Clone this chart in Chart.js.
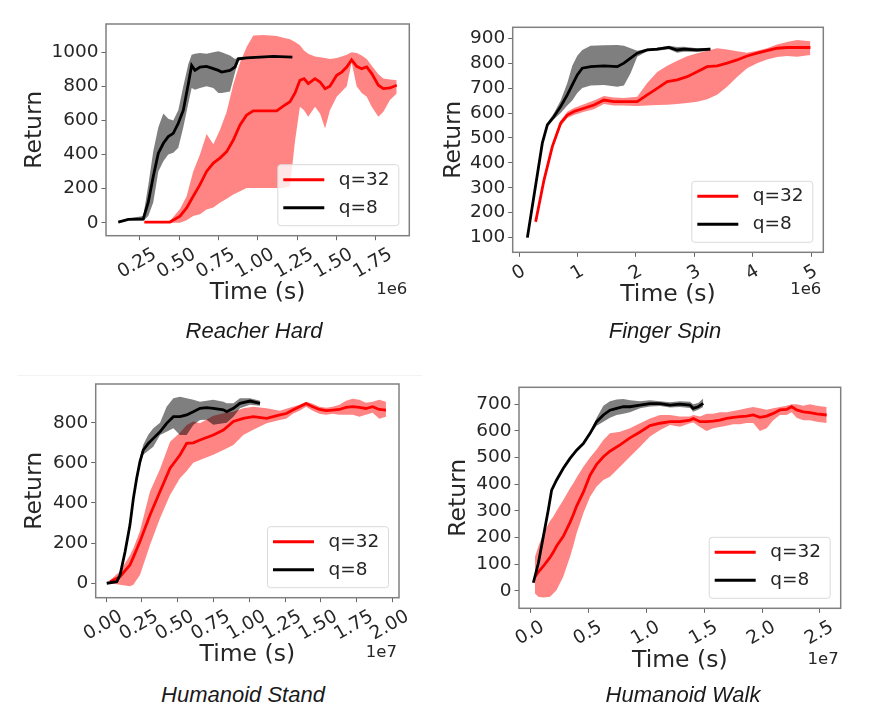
<!DOCTYPE html>
<html>
<head>
<meta charset="utf-8">
<script src="https://cdn.jsdelivr.net/npm/chart.js@4.4.1/dist/chart.umd.min.js"></script>
<style>
  body { margin: 0; background: #fff; width: 881px; height: 728px; position: relative; overflow: hidden; }
  .panel { position: absolute; }
  .titulo { position: absolute; font-family: "Liberation Sans", Arial, sans-serif; font-style: italic; font-size: 22px; line-height: 1; color: #1a1a1a; transform: translate(-50%, -50%); white-space: nowrap; }
  .separador { position: absolute; left: 17px; top: 375px; width: 405px; height: 1px; background: #f3f3f3; }
</style>
</head>
<body>
<div class="separador"></div>
<div class="panel" style="left:0px;top:0px"><canvas id="g1" width="440" height="320"></canvas></div>
<div class="panel" style="left:430px;top:0px"><canvas id="g2" width="451" height="320"></canvas></div>
<div class="panel" style="left:0px;top:360px"><canvas id="g3" width="440" height="320"></canvas></div>
<div class="panel" style="left:430px;top:360px"><canvas id="g4" width="451" height="320"></canvas></div>
<div class="titulo" id="t1" style="left:254px;top:331px"></div>
<div class="titulo" id="t2" style="left:665px;top:331px"></div>
<div class="titulo" id="t3" style="left:243px;top:695px"></div>
<div class="titulo" id="t4" style="left:683px;top:695px"></div>
<script>
const etiquetas = ['q=32', 'q=8'];
const titulos = ['Reacher Hard', 'Finger Spin', 'Humanoid Stand', 'Humanoid Walk'];

// Reacher Hard (tiempo en unidades de 1e6 s)
const reacherX32 = [0.278,0.441,0.505,0.547,0.589,0.632,0.674,0.717,0.759,0.802,0.844,0.887,0.929,0.971,1.035,1.120,1.162,1.205,1.237,1.268,1.294,1.321,1.364,1.396,1.428,1.459,1.502,1.534,1.566,1.597,1.629,1.661,1.693,1.725,1.767,1.799,1.841,1.884];
const reacherY32 = [4,4,39,87,155,223,301,350,379,417,485,573,631,656,656,656,684,709,761,835,845,816,845,825,786,800,864,883,913,955,917,903,913,874,806,786,790,806];
const reacherHi32 = [4,10,80,155,300,400,520,460,544,650,810,940,1030,1097,1100,1095,1085,1075,1060,1040,1010,990,975,970,965,960,965,975,985,1000,995,980,960,920,870,845,840,835];
const reacherLo32 = [0,0,0,15,39,50,78,90,117,140,165,185,204,204,204,204,204,214,480,680,660,621,680,641,553,660,738,770,800,940,800,760,738,680,621,650,720,757];
const reacherX8 = [0.112,0.176,0.271,0.303,0.335,0.367,0.399,0.430,0.462,0.494,0.526,0.558,0.579,0.600,0.632,0.674,0.717,0.749,0.770,0.823,0.855,0.876,0.929,1.014,1.099,1.220];
const reacherY8 = [4,20,22,120,272,408,466,505,524,583,660,815,922,893,913,917,903,893,883,893,913,961,967,971,975,971];
const reacherHi8 = [4,25,40,220,420,560,640,610,600,660,800,930,985,990,995,990,1000,1005,1000,980,960,970,972,975,978,974];
const reacherLo8 = [4,15,10,40,120,300,360,400,410,440,560,700,790,780,790,800,790,760,760,770,880,950,962,967,970,968];
const reacherXTicks = [0.25,0.5,0.75,1.0,1.25,1.5,1.75];
const reacherYTicks = [0,200,400,600,800,1000];

// Finger Spin (1e6 s)
const fingerX32 = [0.285,0.428,0.570,0.713,0.827,0.941,1.112,1.283,1.454,1.625,1.796,2.024,2.195,2.366,2.537,2.708,2.879,3.050,3.221,3.392,3.563,3.734,3.905,4.076,4.247,4.418,4.589,4.761,4.989];
const fingerY32 = [164,331,465,559,592,606,619,632,652,646,646,646,673,699,726,733,746,766,786,789,800,813,829,840,850,860,863,863,863];
const fingerHi32 = [175,340,475,570,605,620,635,650,668,662,660,665,720,765,790,810,828,840,850,860,855,848,842,850,860,875,885,893,888];
const fingerLo32 = [150,320,455,548,580,592,605,615,636,630,630,628,630,632,633,636,640,645,655,673,705,745,780,800,815,825,829,826,833];
const fingerX8 = [0.143,0.399,0.485,0.599,0.713,0.827,0.912,0.998,1.083,1.226,1.454,1.682,1.796,1.910,2.024,2.195,2.366,2.566,2.708,2.822,3.050,3.278];
const fingerY8 = [100,479,552,586,626,673,713,753,780,786,789,786,800,820,840,853,856,863,853,856,853,856];
const fingerHi8 = [100,485,560,600,650,720,790,830,853,870,872,873,870,860,850,858,862,870,865,866,860,862];
const fingerLo8 = [100,473,545,575,600,630,650,680,700,710,712,705,710,760,826,848,850,856,842,846,846,850];
const fingerXTicks = [0,1,2,3,4,5];
const fingerYTicks = [100,200,300,400,500,600,700,800,900];

// Humanoid Stand (1e7 s)
const standX32 = [0.028,0.098,0.167,0.191,0.237,0.307,0.377,0.447,0.516,0.563,0.609,0.656,0.749,0.819,0.889,0.958,1.028,1.121,1.214,1.258,1.304,1.350,1.397,1.443,1.490,1.536,1.582,1.629,1.675,1.722,1.768,1.814,1.861,1.907,1.954];
const standY32 = [8,33,91,130,208,340,457,573,639,697,700,714,739,764,806,822,830,822,839,846,863,880,896,880,866,860,863,866,876,880,876,871,880,866,863];
const standHi32 = [15,60,140,174,260,457,570,705,750,789,806,797,835,847,855,872,880,872,860,870,880,890,905,895,880,875,880,890,910,920,915,900,905,915,905];
const standLo32 = [0,-8,-15,-8,41,191,324,440,523,560,600,614,640,664,689,739,765,797,813,820,845,860,880,860,845,840,845,840,840,840,830,840,850,820,830];
const standX8 = [0.005,0.075,0.098,0.133,0.167,0.191,0.214,0.237,0.260,0.295,0.330,0.377,0.423,0.470,0.516,0.563,0.609,0.656,0.702,0.749,0.819,0.842,0.889,0.935,1.005,1.075];
const standY8 = [0,8,41,157,290,423,523,606,664,697,722,755,797,830,830,839,855,872,875,872,864,855,872,897,908,897];
const standHi8 = [2,12,50,170,305,440,540,625,690,740,772,800,880,922,930,922,914,905,910,914,905,897,897,922,922,910];
const standLo8 = [-2,4,32,144,275,406,505,588,640,660,680,739,755,772,739,739,789,813,815,790,797,800,830,872,889,885];
const standXTicks = [0,0.25,0.5,0.75,1.0,1.25,1.5,1.75,2.0];
const standYTicks = [0,200,400,600,800];

// Humanoid Walk (1e7 s)
const walkX32 = [0.037,0.066,0.109,0.167,0.196,0.224,0.282,0.340,0.369,0.397,0.455,0.513,0.570,0.628,0.685,0.772,0.858,0.945,1.031,1.118,1.204,1.290,1.377,1.406,1.463,1.520,1.577,1.635,1.693,1.751,1.808,1.866,1.923,1.981,2.039,2.096,2.154,2.212,2.255,2.298,2.356,2.413,2.471,2.558];
const walkY32 = [53,70,92,125,145,168,204,257,286,318,370,434,475,503,524,548,574,596,620,629,635,635,641,647,635,635,637,641,647,651,654,656,660,651,656,666,679,681,691,679,672,669,664,660];
const walkHi32 = [128,166,215,262,279,300,341,385,404,425,466,500,530,566,591,597,610,629,647,660,660,654,654,660,654,665,665,670,670,675,680,685,690,685,680,685,690,695,700,700,695,700,695,690];
const walkLo32 = [-10,-23,-25,-23,-10,3,53,128,170,216,291,353,391,416,428,466,503,541,579,604,622,616,629,632,615,600,610,615,620,625,625,630,630,600,610,640,660,660,670,650,640,640,635,630];
const walkX8 = [0.023,0.066,0.109,0.152,0.181,0.224,0.282,0.340,0.397,0.455,0.513,0.570,0.628,0.685,0.743,0.801,0.858,0.945,1.031,1.118,1.204,1.290,1.377,1.404,1.448,1.491];
const walkY8 = [30,103,203,303,378,416,460,497,528,553,591,635,660,678,685,691,691,697,703,703,697,701,697,685,691,704];
const walkHi8 = [32,106,206,306,381,419,463,500,531,556,596,650,695,712,718,720,715,712,715,712,708,712,710,700,705,722];
const walkLo8 = [28,100,200,300,375,413,457,494,525,550,586,620,635,650,660,665,670,685,692,694,688,690,686,672,680,690];
const walkXTicks = [0,0.5,1.0,1.5,2.0,2.5];
const walkYTicks = [0,100,200,300,400,500,600,700];

const ROJO = '#ff0000';
const NEGRO = '#000000';
const BANDA_ROJA = 'rgba(255,0,0,0.48)';
const BANDA_GRIS = 'rgba(0,0,0,0.5)';
const TEXTO = '#262626';
const FUENTE = 'DejaVu Sans';

// posiciones de cada panel (caja del canvas y area del grafico, en px de la pagina)
const paneles = [
  { id: 'g1', caja: { l: 0, t: 0, w: 440, h: 320 }, area: { l: 106, t: 24, r: 409.3, b: 235.7 },
    xMin: 0.034, xMax: 1.964, yMin: -76, yMax: 1165, dec: 2, desp: 15, padY: 20.9, padX: 12.9, exp: '1e6', expY: 54.3,
    xTicks: reacherXTicks, yTicks: reacherYTicks,
    s32: [reacherX32, reacherY32, reacherLo32, reacherHi32], s8: [reacherX8, reacherY8, reacherLo8, reacherHi8] },
  { id: 'g2', caja: { l: 430, t: 0, w: 451, h: 320 }, area: { l: 512.7, t: 27.3, r: 823.3, b: 252.3 },
    xMin: -0.108, xMax: 5.21, yMin: 41, yMax: 944, dec: 0, desp: 5, padY: 9.6, padX: 10.9, exp: '1e6', expY: 37.7,
    xTicks: fingerXTicks, yTicks: fingerYTicks,
    s32: [fingerX32, fingerY32, fingerLo32, fingerHi32], s8: [fingerX8, fingerY8, fingerLo8, fingerHi8] },
  { id: 'g3', caja: { l: 0, t: 360, w: 440, h: 320 }, area: { l: 95.7, t: 384, r: 399, b: 597.7 },
    xMin: -0.072, xMax: 2.045, yMin: -72, yMax: 993, dec: 2, desp: 15, padY: 21.2, padX: 10.9, exp: '1e7', expY: 54.8,
    xTicks: standXTicks, yTicks: standYTicks,
    s32: [standX32, standY32, standLo32, standHi32], s8: [standX8, standY8, standLo8, standHi8] },
  { id: 'g4', caja: { l: 430, t: 360, w: 451, h: 320 }, area: { l: 519, t: 387.3, r: 840.7, b: 608.3 },
    xMin: -0.101, xMax: 2.679, yMin: -66, yMax: 764, dec: 1, desp: 12, padY: 14.6, padX: 4.9, exp: '1e7', expY: 51.7,
    xTicks: walkXTicks, yTicks: walkYTicks,
    s32: [walkX32, walkY32, walkLo32, walkHi32], s8: [walkX8, walkY8, walkLo8, walkHi8] }
];

function puntos(xs, ys) {
  return xs.map((x, i) => ({ x: x, y: ys[i] }));
}

// linea media + banda (max con relleno hasta min)
function serie(s, color, banda, etiqueta, orden) {
  return [
    { label: etiqueta, data: puntos(s[0], s[1]), borderColor: color, borderWidth: 2.8, pointRadius: 0, fill: false, order: orden },
    { label: '', data: puntos(s[0], s[3]), borderColor: 'rgba(0,0,0,0)', borderWidth: 0, pointRadius: 0, backgroundColor: banda, fill: '+1', order: orden + 1 },
    { label: '', data: puntos(s[0], s[2]), borderColor: 'rgba(0,0,0,0)', borderWidth: 0, pointRadius: 0, fill: false, order: orden + 1 }
  ];
}

// marco, texto del exponente y leyenda dibujados encima
const extras = {
  id: 'extras',
  afterDraw(chart) {
    const p = chart.config.options.panel;
    const a = chart.chartArea;
    const ctx = chart.ctx;
    ctx.save();
    ctx.strokeStyle = '#808080';
    ctx.lineWidth = 1.5;
    ctx.strokeRect(a.left, a.top, a.right - a.left, a.bottom - a.top);

    ctx.fillStyle = TEXTO;
    ctx.font = '16.5px "' + FUENTE + '"';
    ctx.textAlign = 'right';
    ctx.textBaseline = 'middle';
    ctx.fillText(p.exp, a.right - 2, a.bottom + p.expY);

    const w = 121, h = 61;
    const bx = a.right - 10.5 - w, by = a.bottom - 10 - h;
    ctx.beginPath();
    ctx.roundRect(bx, by, w, h, 3);
    ctx.fillStyle = 'rgba(255,255,255,0.8)';
    ctx.fill();
    ctx.strokeStyle = '#d9d9d9';
    ctx.lineWidth = 1;
    ctx.stroke();
    const colores = [ROJO, NEGRO];
    ctx.font = '18.5px "' + FUENTE + '"';
    ctx.textAlign = 'left';
    etiquetas.forEach((et, i) => {
      const y = by + 15 + i * 28;
      ctx.strokeStyle = colores[i];
      ctx.lineWidth = 3;
      ctx.beginPath();
      ctx.moveTo(bx + 5.5, y);
      ctx.lineTo(bx + 46.5, y);
      ctx.stroke();
      ctx.fillStyle = TEXTO;
      ctx.fillText(et, bx + 61, y);
    });
    ctx.restore();
  }
};

function crearPanel(p) {
  const c = p.caja, a = p.area;
  const rejilla = { display: true, drawOnChartArea: false, drawTicks: true, tickLength: 4.5, color: '#666', tickWidth: 1 };
  new Chart(document.getElementById(p.id), {
    type: 'line',
    data: {
      datasets: [
        ...serie(p.s8, NEGRO, BANDA_GRIS, etiquetas[1], 0),
        ...serie(p.s32, ROJO, BANDA_ROJA, etiquetas[0], 2)
      ]
    },
    options: {
      panel: p,
      responsive: false,
      animation: false,
      events: [],
      layout: { padding: { left: 0, top: a.t - c.t, right: c.l + c.w - a.r, bottom: 0 } },
      plugins: { legend: { display: false }, tooltip: { enabled: false } },
      scales: {
        x: {
          type: 'linear', min: p.xMin, max: p.xMax,
          afterFit: (s) => { s.height = c.t + c.h - a.b; },
          afterBuildTicks: (s) => { s.ticks = p.xTicks.map(v => ({ value: v })); },
          grid: rejilla,
          border: { display: false },
          ticks: {
            color: TEXTO, font: { family: FUENTE, size: 18.5 }, padding: 3.5,
            minRotation: 30, maxRotation: 30, labelOffset: p.desp, autoSkip: false,
            callback: (v) => Number(v).toFixed(p.dec)
          },
          title: { display: true, text: 'Time (s)', color: TEXTO, font: { family: FUENTE, size: 23.5 }, padding: { top: 0, bottom: p.padX } }
        },
        y: {
          type: 'linear', min: p.yMin, max: p.yMax,
          afterFit: (s) => { s.width = a.l - c.l; },
          afterBuildTicks: (s) => { s.ticks = p.yTicks.map(v => ({ value: v })); },
          grid: rejilla,
          border: { display: false },
          ticks: { color: TEXTO, font: { family: FUENTE, size: 18.5 }, padding: 3, autoSkip: false, callback: (v) => String(v) },
          title: { display: true, text: 'Return', color: TEXTO, font: { family: FUENTE, size: 23.5 }, padding: { top: p.padY, bottom: 0 } }
        }
      }
    },
    plugins: [extras]
  });
}

document.addEventListener('DOMContentLoaded', () => {
  titulos.forEach((t, i) => { document.getElementById('t' + (i + 1)).textContent = t; });
  paneles.forEach(crearPanel);
});
</script>
</body>
</html>
